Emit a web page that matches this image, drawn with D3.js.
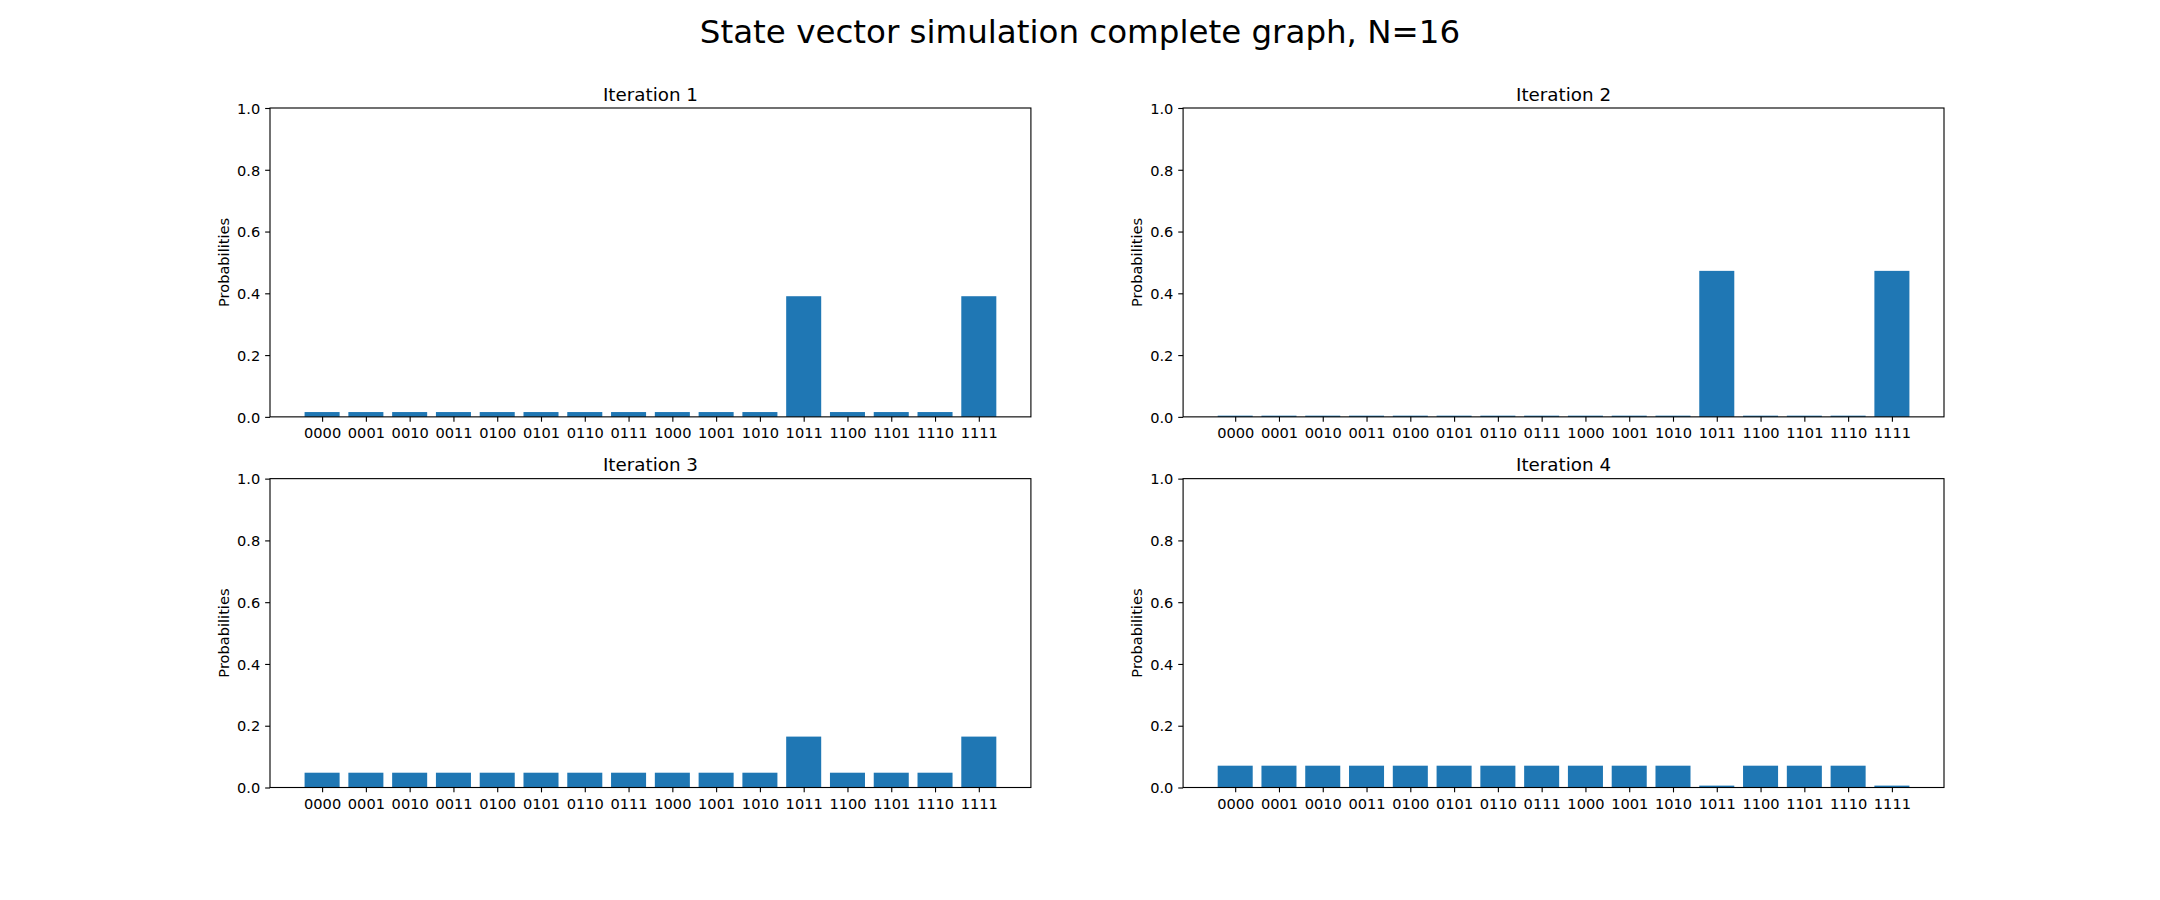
<!DOCTYPE html>
<html>
<head>
<meta charset="utf-8">
<script src="https://cdn.jsdelivr.net/npm/d3@7"></script>
<style>
  html, body { margin: 0; padding: 0; background: #fff; }
  svg { display: block; }
  text { font-family: "DejaVu Sans", sans-serif; fill: #000; }
</style>
</head>
<body>
<svg id="chart" width="2160" height="900"></svg>
<script>
// ---- data ----
const states = ["0000","0001","0010","0011","0100","0101","0110","0111",
                "1000","1001","1010","1011","1100","1101","1110","1111"];
const iteration1 = [0.0156,0.0156,0.0156,0.0156,0.0156,0.0156,0.0156,0.0156,
                    0.0156,0.0156,0.0156,0.3906,0.0156,0.0156,0.0156,0.3906];
const iteration2 = [0.0039,0.0039,0.0039,0.0039,0.0039,0.0039,0.0039,0.0039,
                    0.0039,0.0039,0.0039,0.4727,0.0039,0.0039,0.0039,0.4727];
const iteration3 = [0.0479,0.0479,0.0479,0.0479,0.0479,0.0479,0.0479,0.0479,
                    0.0479,0.0479,0.0479,0.1648,0.0479,0.0479,0.0479,0.1648];
const iteration4 = [0.0706,0.0706,0.0706,0.0706,0.0706,0.0706,0.0706,0.0706,
                    0.0706,0.0706,0.0706,0.0061,0.0706,0.0706,0.0706,0.0061];
const panelTitles = ["Iteration 1","Iteration 2","Iteration 3","Iteration 4"];
const yTicks = [0.0, 0.2, 0.4, 0.6, 0.8, 1.0];
const suptitle = "State vector simulation complete graph, N=16";
const yLabel = "Probabilities";

const series = [iteration1, iteration2, iteration3, iteration4];

// ---- layout (matplotlib-like) ----
const W = 2160, H = 900;
const figLeft = 0.125 * W, figRight = 0.9 * W;
const figTop = (1 - 0.88) * H, figBottom = (1 - 0.125) * H;
const wspace = 0.2, hspace = 0.2;
const axW = (figRight - figLeft) / (2 + wspace);
const axH = (figBottom - figTop) / (2 + hspace);
const lw = 0.8 * 100 / 72;      // spine/tick linewidth
const tickLen = 3.5 * 100 / 72;
const tickPad = 3.5 * 100 / 72;
const tickFont = 14.6;
const titleFont = 18.3;
const barColor = "#1f77b4";

const svg = d3.select("#chart");

svg.append("text")
  .attr("x", W / 2).attr("y", 43.3)
  .attr("text-anchor", "middle")
  .style("font-size", "32.5px")
  .text(suptitle);

series.forEach((vals, i) => {
  const col = i % 2, row = Math.floor(i / 2);
  const x0 = figLeft + col * axW * (1 + wspace);
  const y0 = figTop + row * axH * (1 + hspace);

  const n = states.length;
  const xMin = -0.4 - 0.05 * (n - 1 + 0.8), xMax = n - 1 + 0.4 + 0.05 * (n - 1 + 0.8);
  const x = d3.scaleLinear().domain([xMin, xMax]).range([x0, x0 + axW]);
  const y = d3.scaleLinear().domain([0, 1]).range([y0 + axH, y0]);

  const g = svg.append("g");

  // bars
  g.selectAll("rect.bar").data(vals).enter().append("rect")
    .attr("class", "bar")
    .attr("x", (d, j) => x(j - 0.4))
    .attr("width", (d, j) => x(j + 0.4) - x(j - 0.4))
    .attr("y", d => y(d))
    .attr("height", d => y(0) - y(d))
    .attr("fill", barColor);

  // spines
  g.append("rect")
    .attr("x", x0).attr("y", y0)
    .attr("width", axW).attr("height", axH)
    .attr("fill", "none").attr("stroke", "#000").attr("stroke-width", lw);

  // y axis
  const yAxis = d3.axisLeft(y).tickValues(yTicks).tickFormat(d3.format(".1f"))
    .tickSize(tickLen).tickPadding(tickPad);
  const ya = g.append("g").attr("transform", `translate(${x0},0)`).call(yAxis);
  ya.attr("font-size", null).attr("font-family", null);
  ya.select(".domain").remove();
  ya.selectAll(".tick line").attr("stroke", "#000").attr("stroke-width", lw);
  ya.selectAll(".tick text").style("font-size", tickFont + "px")
    .style("font-family", "DejaVu Sans").attr("fill", "#000").attr("dy", "0.36em");

  // x axis
  const xAxis = d3.axisBottom(x).tickValues(d3.range(n)).tickFormat(j => states[j])
    .tickSize(tickLen).tickPadding(tickPad);
  const xa = g.append("g").attr("transform", `translate(0,${y0 + axH})`).call(xAxis);
  xa.attr("font-size", null).attr("font-family", null);
  xa.select(".domain").remove();
  xa.selectAll(".tick line").attr("stroke", "#000").attr("stroke-width", lw);
  xa.selectAll(".tick text").style("font-size", tickFont + "px")
    .style("font-family", "DejaVu Sans").attr("fill", "#000")
    .attr("dy", null)
    .attr("y", 21);

  // y label
  const lx = x0 - 41, ly = y0 + axH / 2;
  g.append("text")
    .attr("transform", `translate(${lx},${ly}) rotate(-90)`)
    .attr("text-anchor", "middle")
    .style("font-size", tickFont + "px")
    .text(yLabel);

  // panel title
  g.append("text")
    .attr("x", x0 + axW / 2).attr("y", y0 - 7.5)
    .attr("text-anchor", "middle")
    .style("font-size", titleFont + "px")
    .text(panelTitles[i]);
});
</script>
</body>
</html>
